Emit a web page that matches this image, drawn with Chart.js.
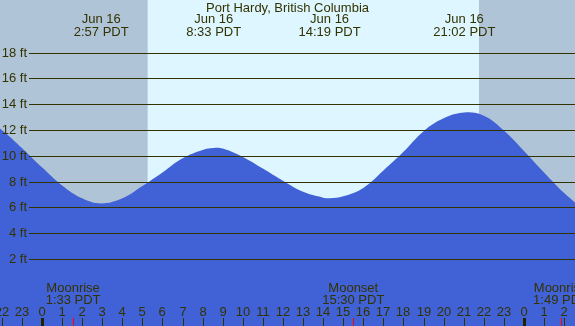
<!DOCTYPE html>
<html>
<head>
<meta charset="utf-8">
<script src="https://cdn.jsdelivr.net/npm/chart.js@4"></script>
<style>
  body { margin: 0; background: #fff; }
  canvas { display: block; }
</style>
</head>
<body>
<canvas id="tideChart" width="575" height="326"></canvas>
<script>
// tide heights (ft) by hour of Jun 16 (negative = previous day, >24 = next day)
const hours   = [-3, -2, -1, 0, 1, 2, 2.95, 4, 5, 6, 7, 8, 8.55, 9, 10, 11, 12, 13, 14, 14.32, 15, 16, 17, 18, 19, 20, 21.03, 22, 23, 24, 25, 26, 27];
const heights = [13.1, 12.0, 10.6, 9.1, 7.7, 6.7, 6.3, 6.7, 7.65, 8.7, 9.8, 10.45, 10.6, 10.55, 9.9, 9.0, 8.05, 7.2, 6.75, 6.7, 6.85, 7.5, 8.85, 10.3, 11.9, 12.9, 13.35, 13.1, 11.95, 10.36, 8.7, 7.1, 5.8];

// high / low tide labels
const tideTimes  = [2.95, 8.55, 14.32, 21.03];
const tideLabels = ['2:57 PDT', '8:33 PDT', '14:19 PDT', '21:02 PDT'];
const tideDate   = 'Jun 16';

// sun and moon
const sunrise = 5.27;
const sunset  = 21.76;
const moonTimes  = [1.55, 15.5, 25.82];
const moonNames  = ['Moonrise', 'Moonset', 'Moonrise'];
const moonLabels = ['1:33 PDT', '15:30 PDT', '1:49 PDT'];

const feetLines = [2, 4, 6, 8, 10, 12, 14, 16, 18];
const tickHours = [-2, -1, 0, 1, 2, 3, 4, 5, 6, 7, 8, 9, 10, 11, 12, 13, 14, 15, 16, 17, 18, 19, 20, 21, 22, 23, 24, 25, 26];

const title = 'Port Hardy, British Columbia';

const ink = '#333300';
const font = '13px "Liberation Sans", Arial, sans-serif';

const tidePlugin = {
  id: 'tide',
  beforeDatasetsDraw(chart) {
    const {ctx, chartArea: a, scales: {x}} = chart;
    const x1 = x.getPixelForValue(sunrise);
    const x2 = x.getPixelForValue(sunset);
    ctx.save();
    ctx.fillStyle = '#b0c4d8';
    ctx.fillRect(a.left, a.top, x1 - a.left, a.bottom - a.top);
    ctx.fillRect(x2, a.top, a.right - x2, a.bottom - a.top);
    ctx.fillStyle = '#ddf6ff';
    ctx.fillRect(x1, a.top, x2 - x1, a.bottom - a.top);
    ctx.restore();
  },
  afterDatasetsDraw(chart) {
    const {ctx, chartArea: a, scales: {x, y}} = chart;
    ctx.save();
    ctx.font = font;
    ctx.fillStyle = ink;

    // feet lines
    ctx.textAlign = 'right';
    ctx.textBaseline = 'middle';
    feetLines.forEach(f => {
      const py = Math.round(y.getPixelForValue(f)) + 0.5;
      ctx.strokeStyle = ink;
      ctx.lineWidth = 1;
      ctx.beginPath();
      ctx.moveTo(29, py);
      ctx.lineTo(a.right, py);
      ctx.stroke();
      ctx.fillText(f + ' ft', 27, py);
    });

    // title
    ctx.textAlign = 'center';
    ctx.fillText(title, (a.left + a.right) / 2, 8);

    // tide labels
    tideTimes.forEach((t, i) => {
      const px = x.getPixelForValue(t);
      ctx.fillText(tideDate, px, 19);
      ctx.fillText(tideLabels[i], px, 32);
    });

    // moon labels
    moonTimes.forEach((t, i) => {
      const px = x.getPixelForValue(t);
      ctx.fillText(moonNames[i], px, 288);
      ctx.fillText(moonLabels[i], px, 300);
    });

    // hour ticks
    tickHours.forEach(h => {
      const px = Math.round(x.getPixelForValue(h));
      const hr = ((h % 24) + 24) % 24;
      ctx.fillStyle = ink;
      ctx.fillText(String(hr), px, 312);
      if (hr === 0) {
        ctx.fillStyle = '#222200';
        ctx.fillRect(px - 1, 318, 3, 8);
      } else {
        ctx.fillRect(px, 318, 1, 8);
      }
    });
    ctx.fillStyle = '#ff0000';
    moonTimes.forEach(t => {
      const px = Math.round(x.getPixelForValue(t));
      ctx.fillRect(px, 318, 1, 8);
    });
    ctx.restore();
  }
};

new Chart(document.getElementById('tideChart'), {
  type: 'line',
  data: {
    datasets: [{
      data: hours.map((h, i) => ({x: h, y: heights[i]})),
      fill: 'start',
      backgroundColor: '#4161d6',
      borderColor: '#4161d6',
      borderWidth: 0,
      pointRadius: 0,
      tension: 0.4
    }]
  },
  options: {
    responsive: false,
    animation: false,
    layout: {padding: 0},
    plugins: {
      legend: {display: false},
      tooltip: {enabled: false}
    },
    scales: {
      x: {type: 'linear', display: false, min: -2.09, max: 26.54},
      y: {display: false, min: -3.2, max: 22.07}
    }
  },
  plugins: [tidePlugin]
});
</script>
</body>
</html>
